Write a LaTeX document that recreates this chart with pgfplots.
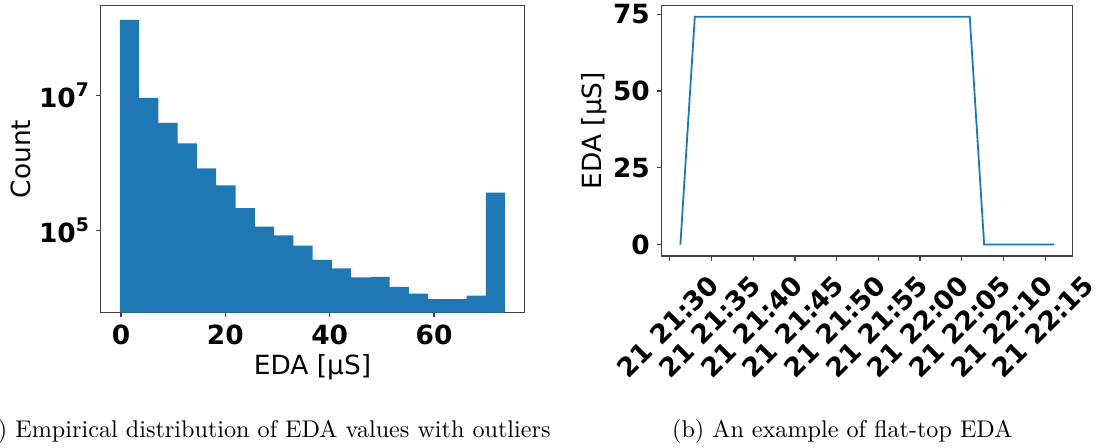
\documentclass[border=0pt]{standalone}
\usepackage{pgfplots}
\pgfplotsset{compat=1.18}
\usepackage{fontspec}
\usepackage{graphicx}
\newfontfamily\dv{DejaVu Sans}
\definecolor{mplblue}{HTML}{1F77B4}

\begin{document}
\begin{tikzpicture}[x=1pt,y=1pt]
\useasboundingbox (0,0) rectangle (548.5,224);
\pgfplotsset{
  every axis/.append style={
    scale only axis,
    axis line style={black!75, line width=0.6pt},
    every tick/.style={black!75, line width=0.6pt},
    tick align=outside,
    major tick length=2.4pt,
    xtick pos=left, ytick pos=left,
    tick label style={font=\dv\bfseries\fontsize{13.2}{15}\selectfont},
    label style={font=\dv\fontsize{13.2}{15}\selectfont},
  }
}
% (a) histogram
\begin{axis}[at={(50.35pt,67.65pt)}, anchor=south west, width=211.8pt, height=153.7pt,
  xmin=-3.88, xmax=77.29, ymode=log, ymin=6095, ymax=2.18e8, log origin=infty,
  xtick={0,20,40,60}, xticklabels={0,20,40,60},
  ytick={1e5,1e7}, yticklabels={10\raisebox{0.42em}{\fontsize{9.4}{10}\selectfont 5},10\raisebox{0.42em}{\fontsize{9.4}{10}\selectfont 7}},
  yminorticks=false, xminorticks=false,
  xlabel={EDA [μS]}, ylabel={Count},
  xlabel style={at={(axis description cs:0.5,-0.176)}, anchor=center},
  ylabel style={at={(axis description cs:-0.189,0.5)}, anchor=center},
]
\addplot[ybar interval, fill=mplblue, draw=none] coordinates {
(-0.19,1.32e8) (3.50,9.3e6) (7.19,3.95e6) (10.88,1.97e6) (14.57,8.4e5)
(18.26,4.7e5) (21.95,2.15e5) (25.64,1.15e5) (29.33,8.55e4) (33.02,6.0e4)
(36.71,3.68e4) (40.40,2.77e4) (44.09,2.04e4) (47.78,2.07e4) (51.47,1.47e4)
(55.16,1.17e4) (58.85,9.7e3) (62.54,9.7e3) (66.23,1.09e4) (69.92,3.66e5)
(73.61,3.66e5)
};
\end{axis}
% (b) flat-top EDA
\begin{axis}[at={(330.85pt,96pt)}, anchor=south west, width=205.5pt, height=125.35pt,
  xmin=29.02, xmax=78.31, ymin=-3.71, ymax=77.91,
  xtick={30,35,40,45,50,55,60,65,70,75},
  xticklabels={21 21:30,21 21:35,21 21:40,21 21:45,21 21:50,21 21:55,21 22:00,21 22:05,21 22:10,21 22:15},
  ytick={0,25,50,75}, yticklabels={0,25,50,75},
  xticklabel style={yshift=-32.75pt, xshift=-1pt, rotate=45, anchor=center},
  ylabel={EDA [μS]},
  ylabel style={at={(axis description cs:-0.164,0.5)}, anchor=center},
]
\addplot[mplblue, line width=0.9pt] coordinates {
(31.26,0) (32.99,74.2) (65.96,74.2) (67.69,0) (76.07,0)
};
\end{axis}
\node[anchor=base west, inner sep=0pt] at (7.5,5.25) {\scalebox{1.208}{\llap{(a) }Empirical distribution of EDA values with outliers}};
\node[anchor=base west, inner sep=0pt] at (335.85,5.25) {\scalebox{1.208}{(b) An example of flat-top EDA}};
\end{tikzpicture}
\end{document}
